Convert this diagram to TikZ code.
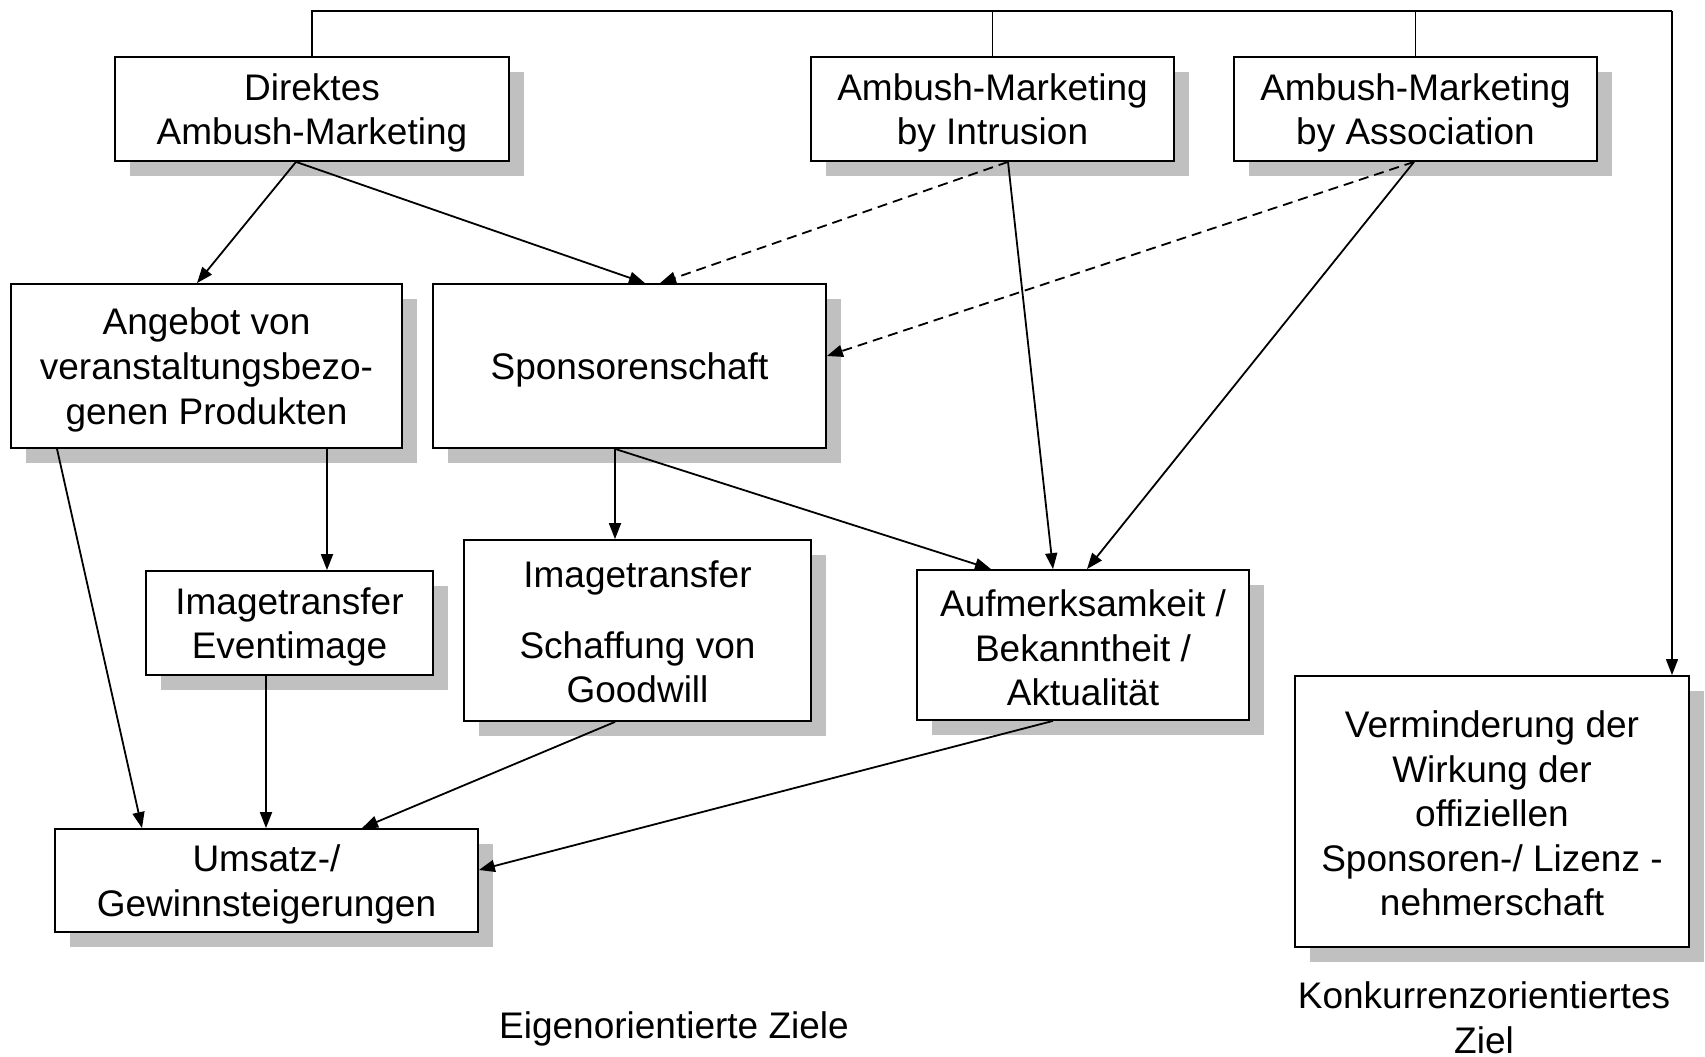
\documentclass[tikz,border=0pt]{standalone}
\usepackage{fontspec}
\setmainfont{Liberation Sans}
\usetikzlibrary{arrows.meta,shadows}
\definecolor{shadowgray}{RGB}{192,192,192}
\begin{document}
\begin{tikzpicture}[x=1pt,y=1pt,
  font=\fontsize{37}{44.6}\selectfont,
  goalbox/.style={draw=black, line width=1.8pt, fill=white, inner sep=0pt,
    general shadow={fill=shadowgray, draw=none, shadow xshift=15pt, shadow yshift=-15pt}},
  boxtext/.style={align=center, inner sep=0pt},
  link/.style={line width=1.8pt, -{Triangle[length=16pt,width=12pt]}},
  dashlink/.style={link, dash pattern=on 10pt off 6pt},
  topline/.style={line width=1.5pt}]
\useasboundingbox (0,0) rectangle (1705,-1057);

% kinds of ambush marketing
\node[goalbox, minimum width=394pt, minimum height=104pt] (dir) at (312,-109) {};
\node[goalbox, minimum width=363pt, minimum height=104pt] (intr) at (992.5,-109) {};
\node[goalbox, minimum width=363pt, minimum height=104pt] (assoc) at (1415.5,-109) {};

% intermediate goals
\node[goalbox, minimum width=391pt, minimum height=164pt] (prod) at (206.5,-366) {};
\node[goalbox, minimum width=393pt, minimum height=164pt] (spons) at (629.5,-366) {};
\node[goalbox, minimum width=287pt, minimum height=104pt] (event) at (289.5,-623) {};
\node[goalbox, minimum width=347pt, minimum height=181pt] (good) at (637.5,-630.5) {};
\node[goalbox, minimum width=332pt, minimum height=150pt] (attn) at (1083,-645) {};
\node[goalbox, minimum width=423pt, minimum height=103pt] (sales) at (266.5,-880.5) {};

% competitor-oriented goal
\node[goalbox, minimum width=394pt, minimum height=271pt] (weak) at (1492,-811.5) {};

% box texts
\node[boxtext] (dir-t) at ([yshift=-4pt]dir.center) {Direktes\\Ambush-Marketing};
\node[boxtext] (intr-t) at ([yshift=-4pt]intr.center) {Ambush-Marketing\\by Intrusion};
\node[boxtext] (assoc-t) at ([yshift=-4pt]assoc.center) {Ambush-Marketing\\by Association};
\node[boxtext] (prod-t) at ([yshift=-4pt]prod.center) {Angebot von\\veranstaltungsbezo-\\genen Produkten};
\node[boxtext] (spons-t) at ([yshift=-4pt]spons.center) {Sponsorenschaft};
\node[boxtext] (event-t) at ([yshift=-4pt]event.center) {Imagetransfer\\Eventimage};
\node[boxtext] (good-t) at ([yshift=-1.5pt]good.center) {Imagetransfer\\[26pt]Schaffung von\\Goodwill};
\node[boxtext] (attn-t) at ([yshift=-3pt]attn.center) {Aufmerksamkeit /\\Bekanntheit /\\Aktualität};
\node[boxtext] (sales-t) at ([yshift=-4pt]sales.center) {Umsatz-/\\Gewinnsteigerungen};
\node[boxtext] (weak-t) at ([yshift=-2pt]weak.center) {Verminderung der\\Wirkung der\\offiziellen\\Sponsoren-/ Lizenz -\\nehmerschaft};

% group captions
\node[align=center] (own) at (674,-1029) {Eigenorientierte Ziele};
\node[align=center] (comp) at (1484,-1018) {Konkurrenzorientiertes\\Ziel};

% bracket joining the three kinds to the competitor goal
\coordinate (topL) at (dir.north |- 0,-11);
\coordinate (topR) at (1672,-11);
\draw[topline] (dir.north) -- (topL) -- (topR);
\draw[topline] (intr.north) -- (intr.north |- topL);
\draw[topline] (assoc.north) -- (assoc.north |- topL);
\draw[topline, -{Triangle[length=16pt,width=12pt]}] (topR) -- (topR |- weak.north);

% connectors
\draw[link] ([xshift=-16pt]dir.south) -- ([xshift=-9.5pt]prod.north);
\draw[link] ([xshift=-16pt]dir.south) -- ([xshift=15.5pt]spons.north);
\draw[dashlink] ([xshift=15.5pt]intr.south) -- ([xshift=30.5pt]spons.north);
\draw[link] ([xshift=15.5pt]intr.south) -- ([xshift=-30pt]attn.north);
\draw[dashlink] ([xshift=-1.5pt]assoc.south) -- ([yshift=10pt]spons.east);
\draw[link] ([xshift=-1.5pt]assoc.south) -- ([xshift=4pt]attn.north);
\draw[link] ([xshift=-149.5pt]prod.south) -- ([xshift=-124.5pt]sales.north);
\draw[link] ([xshift=120.5pt]prod.south) -- ([xshift=37.5pt]event.north);
\draw[link] ([xshift=-14.5pt]spons.south) -- ([xshift=-22.5pt]good.north);
\draw[link] ([xshift=-14.5pt]spons.south) -- ([xshift=-92pt]attn.north);
\draw[link] ([xshift=-23.5pt]event.south) -- ([xshift=-0.5pt]sales.north);
\draw[link] ([xshift=-22.5pt]good.south) -- ([xshift=95.5pt]sales.north);
\draw[link] ([xshift=-30pt]attn.south) -- ([yshift=10.5pt]sales.east);
\end{tikzpicture}
\end{document}
